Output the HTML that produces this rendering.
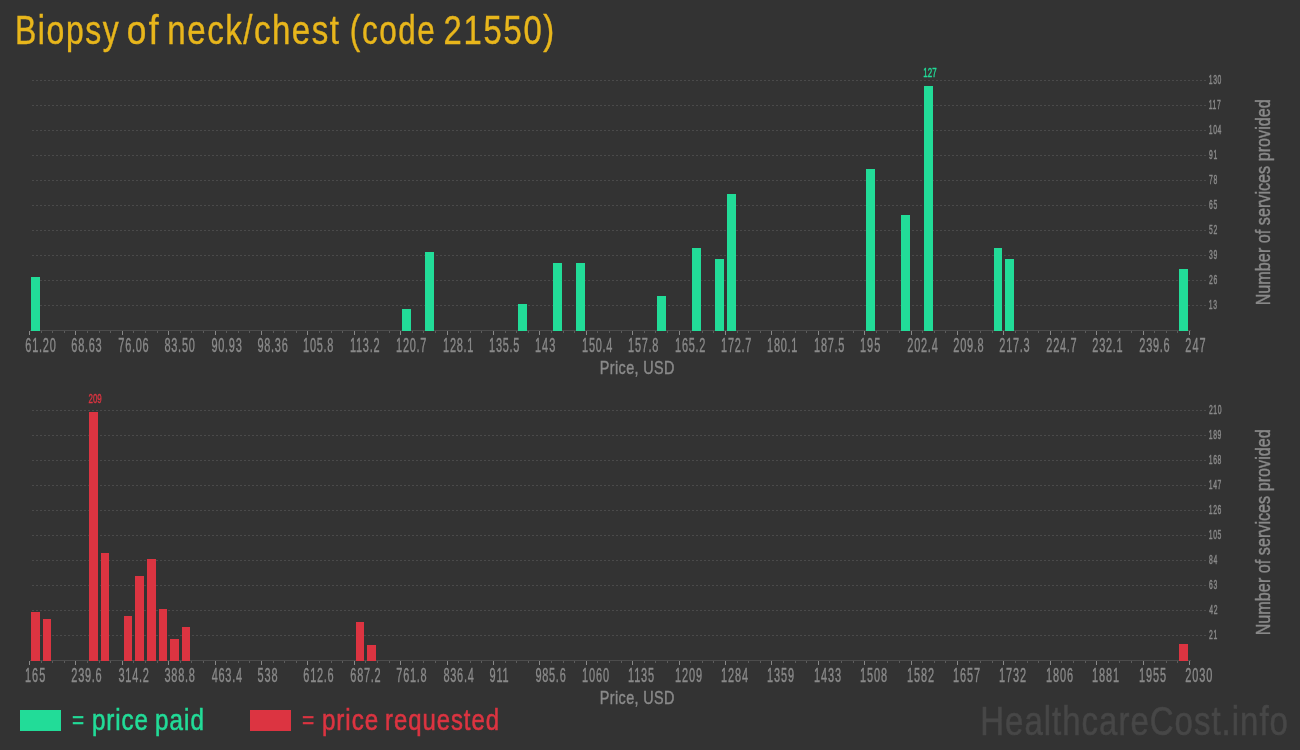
<!DOCTYPE html>
<html><head><meta charset="utf-8"><style>
html,body{margin:0;padding:0;background:#333333;width:1300px;height:750px;overflow:hidden}
svg{display:block;font-family:"Liberation Sans", sans-serif;will-change:transform}
rect,line{shape-rendering:crispEdges}
</style></head><body>
<svg width="1300" height="750" viewBox="0 0 1300 750">
<line x1="32" y1="305.5" x2="1206" y2="305.5" stroke="#4a4a4a" stroke-width="1" stroke-dasharray="2,2"/>
<line x1="32" y1="280.5" x2="1206" y2="280.5" stroke="#4a4a4a" stroke-width="1" stroke-dasharray="2,2"/>
<line x1="32" y1="255.5" x2="1206" y2="255.5" stroke="#4a4a4a" stroke-width="1" stroke-dasharray="2,2"/>
<line x1="32" y1="230.5" x2="1206" y2="230.5" stroke="#4a4a4a" stroke-width="1" stroke-dasharray="2,2"/>
<line x1="32" y1="205.5" x2="1206" y2="205.5" stroke="#4a4a4a" stroke-width="1" stroke-dasharray="2,2"/>
<line x1="32" y1="180.5" x2="1206" y2="180.5" stroke="#4a4a4a" stroke-width="1" stroke-dasharray="2,2"/>
<line x1="32" y1="155.5" x2="1206" y2="155.5" stroke="#4a4a4a" stroke-width="1" stroke-dasharray="2,2"/>
<line x1="32" y1="130.5" x2="1206" y2="130.5" stroke="#4a4a4a" stroke-width="1" stroke-dasharray="2,2"/>
<line x1="32" y1="105.5" x2="1206" y2="105.5" stroke="#4a4a4a" stroke-width="1" stroke-dasharray="2,2"/>
<line x1="32" y1="80.5" x2="1206" y2="80.5" stroke="#4a4a4a" stroke-width="1" stroke-dasharray="2,2"/>
<rect x="30" y="330" width="1161" height="1" fill="#4c4c4c"/>
<rect x="29" y="331" width="1" height="4" fill="#888888"/>
<rect x="41" y="331" width="1" height="2" fill="#5c5c5c"/>
<rect x="52" y="331" width="1" height="2" fill="#5c5c5c"/>
<rect x="64" y="331" width="1" height="2" fill="#5c5c5c"/>
<rect x="75" y="331" width="1" height="4" fill="#888888"/>
<rect x="87" y="331" width="1" height="2" fill="#5c5c5c"/>
<rect x="99" y="331" width="1" height="2" fill="#5c5c5c"/>
<rect x="110" y="331" width="1" height="2" fill="#5c5c5c"/>
<rect x="122" y="331" width="1" height="4" fill="#888888"/>
<rect x="133" y="331" width="1" height="2" fill="#5c5c5c"/>
<rect x="145" y="331" width="1" height="2" fill="#5c5c5c"/>
<rect x="157" y="331" width="1" height="2" fill="#5c5c5c"/>
<rect x="168" y="331" width="1" height="4" fill="#888888"/>
<rect x="180" y="331" width="1" height="2" fill="#5c5c5c"/>
<rect x="191" y="331" width="1" height="2" fill="#5c5c5c"/>
<rect x="203" y="331" width="1" height="2" fill="#5c5c5c"/>
<rect x="215" y="331" width="1" height="4" fill="#888888"/>
<rect x="226" y="331" width="1" height="2" fill="#5c5c5c"/>
<rect x="238" y="331" width="1" height="2" fill="#5c5c5c"/>
<rect x="249" y="331" width="1" height="2" fill="#5c5c5c"/>
<rect x="261" y="331" width="1" height="4" fill="#888888"/>
<rect x="273" y="331" width="1" height="2" fill="#5c5c5c"/>
<rect x="284" y="331" width="1" height="2" fill="#5c5c5c"/>
<rect x="296" y="331" width="1" height="2" fill="#5c5c5c"/>
<rect x="307" y="331" width="1" height="4" fill="#888888"/>
<rect x="319" y="331" width="1" height="2" fill="#5c5c5c"/>
<rect x="331" y="331" width="1" height="2" fill="#5c5c5c"/>
<rect x="342" y="331" width="1" height="2" fill="#5c5c5c"/>
<rect x="354" y="331" width="1" height="4" fill="#888888"/>
<rect x="365" y="331" width="1" height="2" fill="#5c5c5c"/>
<rect x="377" y="331" width="1" height="2" fill="#5c5c5c"/>
<rect x="389" y="331" width="1" height="2" fill="#5c5c5c"/>
<rect x="400" y="331" width="1" height="4" fill="#888888"/>
<rect x="412" y="331" width="1" height="2" fill="#5c5c5c"/>
<rect x="423" y="331" width="1" height="2" fill="#5c5c5c"/>
<rect x="435" y="331" width="1" height="2" fill="#5c5c5c"/>
<rect x="447" y="331" width="1" height="4" fill="#888888"/>
<rect x="458" y="331" width="1" height="2" fill="#5c5c5c"/>
<rect x="470" y="331" width="1" height="2" fill="#5c5c5c"/>
<rect x="481" y="331" width="1" height="2" fill="#5c5c5c"/>
<rect x="493" y="331" width="1" height="4" fill="#888888"/>
<rect x="505" y="331" width="1" height="2" fill="#5c5c5c"/>
<rect x="516" y="331" width="1" height="2" fill="#5c5c5c"/>
<rect x="528" y="331" width="1" height="2" fill="#5c5c5c"/>
<rect x="539" y="331" width="1" height="4" fill="#888888"/>
<rect x="551" y="331" width="1" height="2" fill="#5c5c5c"/>
<rect x="563" y="331" width="1" height="2" fill="#5c5c5c"/>
<rect x="574" y="331" width="1" height="2" fill="#5c5c5c"/>
<rect x="586" y="331" width="1" height="4" fill="#888888"/>
<rect x="597" y="331" width="1" height="2" fill="#5c5c5c"/>
<rect x="609" y="331" width="1" height="2" fill="#5c5c5c"/>
<rect x="621" y="331" width="1" height="2" fill="#5c5c5c"/>
<rect x="632" y="331" width="1" height="4" fill="#888888"/>
<rect x="644" y="331" width="1" height="2" fill="#5c5c5c"/>
<rect x="655" y="331" width="1" height="2" fill="#5c5c5c"/>
<rect x="667" y="331" width="1" height="2" fill="#5c5c5c"/>
<rect x="679" y="331" width="1" height="4" fill="#888888"/>
<rect x="690" y="331" width="1" height="2" fill="#5c5c5c"/>
<rect x="702" y="331" width="1" height="2" fill="#5c5c5c"/>
<rect x="713" y="331" width="1" height="2" fill="#5c5c5c"/>
<rect x="725" y="331" width="1" height="4" fill="#888888"/>
<rect x="737" y="331" width="1" height="2" fill="#5c5c5c"/>
<rect x="748" y="331" width="1" height="2" fill="#5c5c5c"/>
<rect x="760" y="331" width="1" height="2" fill="#5c5c5c"/>
<rect x="771" y="331" width="1" height="4" fill="#888888"/>
<rect x="783" y="331" width="1" height="2" fill="#5c5c5c"/>
<rect x="795" y="331" width="1" height="2" fill="#5c5c5c"/>
<rect x="806" y="331" width="1" height="2" fill="#5c5c5c"/>
<rect x="818" y="331" width="1" height="4" fill="#888888"/>
<rect x="829" y="331" width="1" height="2" fill="#5c5c5c"/>
<rect x="841" y="331" width="1" height="2" fill="#5c5c5c"/>
<rect x="853" y="331" width="1" height="2" fill="#5c5c5c"/>
<rect x="864" y="331" width="1" height="4" fill="#888888"/>
<rect x="876" y="331" width="1" height="2" fill="#5c5c5c"/>
<rect x="887" y="331" width="1" height="2" fill="#5c5c5c"/>
<rect x="899" y="331" width="1" height="2" fill="#5c5c5c"/>
<rect x="911" y="331" width="1" height="4" fill="#888888"/>
<rect x="922" y="331" width="1" height="2" fill="#5c5c5c"/>
<rect x="934" y="331" width="1" height="2" fill="#5c5c5c"/>
<rect x="945" y="331" width="1" height="2" fill="#5c5c5c"/>
<rect x="957" y="331" width="1" height="4" fill="#888888"/>
<rect x="969" y="331" width="1" height="2" fill="#5c5c5c"/>
<rect x="980" y="331" width="1" height="2" fill="#5c5c5c"/>
<rect x="992" y="331" width="1" height="2" fill="#5c5c5c"/>
<rect x="1003" y="331" width="1" height="4" fill="#888888"/>
<rect x="1015" y="331" width="1" height="2" fill="#5c5c5c"/>
<rect x="1027" y="331" width="1" height="2" fill="#5c5c5c"/>
<rect x="1038" y="331" width="1" height="2" fill="#5c5c5c"/>
<rect x="1050" y="331" width="1" height="4" fill="#888888"/>
<rect x="1061" y="331" width="1" height="2" fill="#5c5c5c"/>
<rect x="1073" y="331" width="1" height="2" fill="#5c5c5c"/>
<rect x="1085" y="331" width="1" height="2" fill="#5c5c5c"/>
<rect x="1096" y="331" width="1" height="4" fill="#888888"/>
<rect x="1108" y="331" width="1" height="2" fill="#5c5c5c"/>
<rect x="1119" y="331" width="1" height="2" fill="#5c5c5c"/>
<rect x="1131" y="331" width="1" height="2" fill="#5c5c5c"/>
<rect x="1143" y="331" width="1" height="4" fill="#888888"/>
<rect x="1154" y="331" width="1" height="2" fill="#5c5c5c"/>
<rect x="1166" y="331" width="1" height="2" fill="#5c5c5c"/>
<rect x="1177" y="331" width="1" height="2" fill="#5c5c5c"/>
<rect x="1189" y="331" width="1" height="4" fill="#888888"/>
<rect x="31" y="277" width="9" height="54" fill="#22dc98"/>
<rect x="402" y="309" width="9" height="22" fill="#22dc98"/>
<rect x="425" y="252" width="9" height="79" fill="#22dc98"/>
<rect x="518" y="304" width="9" height="27" fill="#22dc98"/>
<rect x="553" y="263" width="9" height="68" fill="#22dc98"/>
<rect x="576" y="263" width="9" height="68" fill="#22dc98"/>
<rect x="657" y="296" width="9" height="35" fill="#22dc98"/>
<rect x="692" y="248" width="9" height="83" fill="#22dc98"/>
<rect x="715" y="259" width="9" height="72" fill="#22dc98"/>
<rect x="727" y="194" width="9" height="137" fill="#22dc98"/>
<rect x="866" y="169" width="9" height="162" fill="#22dc98"/>
<rect x="901" y="215" width="9" height="116" fill="#22dc98"/>
<rect x="924" y="86" width="9" height="245" fill="#22dc98"/>
<text transform="translate(923.30,76.87) scale(0.6200,1)" font-size="12.86" fill="#22dc98" stroke="#22dc98" stroke-width="0.4">127</text>
<rect x="994" y="248" width="8" height="83" fill="#22dc98"/>
<rect x="1005" y="259" width="9" height="72" fill="#22dc98"/>
<rect x="1179" y="269" width="9" height="62" fill="#22dc98"/>
<text transform="translate(25.35,351.90) scale(0.5427,1)" font-size="20.21" fill="#8a8a8a" stroke="#8a8a8a" stroke-width="0.4" letter-spacing="1.356">61.20</text>
<text transform="translate(71.35,351.90) scale(0.5427,1)" font-size="20.21" fill="#8a8a8a" stroke="#8a8a8a" stroke-width="0.4" letter-spacing="1.353">68.63</text>
<text transform="translate(118.32,351.90) scale(0.5427,1)" font-size="20.21" fill="#8a8a8a" stroke="#8a8a8a" stroke-width="0.4" letter-spacing="1.352">76.06</text>
<text transform="translate(164.43,351.90) scale(0.5427,1)" font-size="20.21" fill="#8a8a8a" stroke="#8a8a8a" stroke-width="0.4" letter-spacing="1.360">83.50</text>
<text transform="translate(211.38,351.90) scale(0.5427,1)" font-size="20.21" fill="#8a8a8a" stroke="#8a8a8a" stroke-width="0.4" letter-spacing="1.354">90.93</text>
<text transform="translate(257.38,351.90) scale(0.5427,1)" font-size="20.21" fill="#8a8a8a" stroke="#8a8a8a" stroke-width="0.4" letter-spacing="1.354">98.36</text>
<text transform="translate(303.08,351.90) scale(0.5427,1)" font-size="20.21" fill="#8a8a8a" stroke="#8a8a8a" stroke-width="0.4" letter-spacing="1.339">105.8</text>
<text transform="translate(350.08,351.90) scale(0.5427,1)" font-size="20.21" fill="#8a8a8a" stroke="#8a8a8a" stroke-width="0.4" letter-spacing="1.293">113.2</text>
<text transform="translate(396.08,351.90) scale(0.5427,1)" font-size="20.21" fill="#8a8a8a" stroke="#8a8a8a" stroke-width="0.4" letter-spacing="1.335">120.7</text>
<text transform="translate(443.08,351.90) scale(0.5427,1)" font-size="20.21" fill="#8a8a8a" stroke="#8a8a8a" stroke-width="0.4" letter-spacing="1.336">128.1</text>
<text transform="translate(489.08,351.90) scale(0.5427,1)" font-size="20.21" fill="#8a8a8a" stroke="#8a8a8a" stroke-width="0.4" letter-spacing="1.340">135.5</text>
<text transform="translate(535.08,351.90) scale(0.5427,1)" font-size="20.21" fill="#8a8a8a" stroke="#8a8a8a" stroke-width="0.4" letter-spacing="1.740">143</text>
<text transform="translate(582.08,351.90) scale(0.5427,1)" font-size="20.21" fill="#8a8a8a" stroke="#8a8a8a" stroke-width="0.4" letter-spacing="1.347">150.4</text>
<text transform="translate(628.08,351.90) scale(0.5427,1)" font-size="20.21" fill="#8a8a8a" stroke="#8a8a8a" stroke-width="0.4" letter-spacing="1.339">157.8</text>
<text transform="translate(675.08,351.90) scale(0.5427,1)" font-size="20.21" fill="#8a8a8a" stroke="#8a8a8a" stroke-width="0.4" letter-spacing="1.335">165.2</text>
<text transform="translate(721.08,351.90) scale(0.5427,1)" font-size="20.21" fill="#8a8a8a" stroke="#8a8a8a" stroke-width="0.4" letter-spacing="1.335">172.7</text>
<text transform="translate(767.08,351.90) scale(0.5427,1)" font-size="20.21" fill="#8a8a8a" stroke="#8a8a8a" stroke-width="0.4" letter-spacing="1.336">180.1</text>
<text transform="translate(814.08,351.90) scale(0.5427,1)" font-size="20.21" fill="#8a8a8a" stroke="#8a8a8a" stroke-width="0.4" letter-spacing="1.340">187.5</text>
<text transform="translate(860.08,351.90) scale(0.5427,1)" font-size="20.21" fill="#8a8a8a" stroke="#8a8a8a" stroke-width="0.4" letter-spacing="1.743">195</text>
<text transform="translate(907.35,351.90) scale(0.5427,1)" font-size="20.21" fill="#8a8a8a" stroke="#8a8a8a" stroke-width="0.4" letter-spacing="1.362">202.4</text>
<text transform="translate(953.35,351.90) scale(0.5427,1)" font-size="20.21" fill="#8a8a8a" stroke="#8a8a8a" stroke-width="0.4" letter-spacing="1.353">209.8</text>
<text transform="translate(999.35,351.90) scale(0.5427,1)" font-size="20.21" fill="#8a8a8a" stroke="#8a8a8a" stroke-width="0.4" letter-spacing="1.353">217.3</text>
<text transform="translate(1046.35,351.90) scale(0.5427,1)" font-size="20.21" fill="#8a8a8a" stroke="#8a8a8a" stroke-width="0.4" letter-spacing="1.349">224.7</text>
<text transform="translate(1092.35,351.90) scale(0.5427,1)" font-size="20.21" fill="#8a8a8a" stroke="#8a8a8a" stroke-width="0.4" letter-spacing="1.350">232.1</text>
<text transform="translate(1139.35,351.90) scale(0.5427,1)" font-size="20.21" fill="#8a8a8a" stroke="#8a8a8a" stroke-width="0.4" letter-spacing="1.353">239.6</text>
<text transform="translate(1185.35,351.90) scale(0.5427,1)" font-size="20.21" fill="#8a8a8a" stroke="#8a8a8a" stroke-width="0.4" letter-spacing="1.760">247</text>
<text transform="translate(1208.79,308.60) scale(0.5355,1)" font-size="12.72" fill="#8a8a8a" stroke="#8a8a8a" stroke-width="0.45" letter-spacing="1.403">13</text>
<text transform="translate(1208.96,283.60) scale(0.5355,1)" font-size="12.72" fill="#8a8a8a" stroke="#8a8a8a" stroke-width="0.45" letter-spacing="1.438">26</text>
<text transform="translate(1209.04,258.60) scale(0.5355,1)" font-size="12.72" fill="#8a8a8a" stroke="#8a8a8a" stroke-width="0.45" letter-spacing="1.452">39</text>
<text transform="translate(1209.03,233.60) scale(0.5355,1)" font-size="12.72" fill="#8a8a8a" stroke="#8a8a8a" stroke-width="0.45" letter-spacing="1.442">52</text>
<text transform="translate(1208.96,208.60) scale(0.5355,1)" font-size="12.72" fill="#8a8a8a" stroke="#8a8a8a" stroke-width="0.45" letter-spacing="1.442">65</text>
<text transform="translate(1208.94,183.60) scale(0.5355,1)" font-size="12.72" fill="#8a8a8a" stroke="#8a8a8a" stroke-width="0.45" letter-spacing="1.435">78</text>
<text transform="translate(1208.98,158.60) scale(0.5355,1)" font-size="12.72" fill="#8a8a8a" stroke="#8a8a8a" stroke-width="0.45" letter-spacing="1.435">91</text>
<text transform="translate(1208.79,133.60) scale(0.5355,1)" font-size="12.72" fill="#8a8a8a" stroke="#8a8a8a" stroke-width="0.45" letter-spacing="1.106">104</text>
<text transform="translate(1208.79,108.60) scale(0.5355,1)" font-size="12.72" fill="#8a8a8a" stroke="#8a8a8a" stroke-width="0.45" letter-spacing="1.037">117</text>
<text transform="translate(1208.79,83.60) scale(0.5355,1)" font-size="12.72" fill="#8a8a8a" stroke="#8a8a8a" stroke-width="0.45" letter-spacing="1.099">130</text>
<text transform="translate(599.79,373.97) scale(0.7515,1)" font-size="19.13" fill="#8a8a8a" stroke="#8a8a8a" stroke-width="0.45" letter-spacing="0.539">Price, USD</text>
<text transform="translate(1270,304) rotate(-90) translate(-1.34,0) scale(0.7962,1)" font-size="20.36" fill="#8a8a8a" stroke="#8a8a8a" stroke-width="0.45">Number of services provided</text>
<line x1="32" y1="635.5" x2="1206" y2="635.5" stroke="#4a4a4a" stroke-width="1" stroke-dasharray="2,2"/>
<line x1="32" y1="610.5" x2="1206" y2="610.5" stroke="#4a4a4a" stroke-width="1" stroke-dasharray="2,2"/>
<line x1="32" y1="585.5" x2="1206" y2="585.5" stroke="#4a4a4a" stroke-width="1" stroke-dasharray="2,2"/>
<line x1="32" y1="560.5" x2="1206" y2="560.5" stroke="#4a4a4a" stroke-width="1" stroke-dasharray="2,2"/>
<line x1="32" y1="535.5" x2="1206" y2="535.5" stroke="#4a4a4a" stroke-width="1" stroke-dasharray="2,2"/>
<line x1="32" y1="510.5" x2="1206" y2="510.5" stroke="#4a4a4a" stroke-width="1" stroke-dasharray="2,2"/>
<line x1="32" y1="485.5" x2="1206" y2="485.5" stroke="#4a4a4a" stroke-width="1" stroke-dasharray="2,2"/>
<line x1="32" y1="460.5" x2="1206" y2="460.5" stroke="#4a4a4a" stroke-width="1" stroke-dasharray="2,2"/>
<line x1="32" y1="435.5" x2="1206" y2="435.5" stroke="#4a4a4a" stroke-width="1" stroke-dasharray="2,2"/>
<line x1="32" y1="410.5" x2="1206" y2="410.5" stroke="#4a4a4a" stroke-width="1" stroke-dasharray="2,2"/>
<rect x="30" y="660" width="1161" height="1" fill="#4c4c4c"/>
<rect x="29" y="661" width="1" height="4" fill="#888888"/>
<rect x="41" y="661" width="1" height="2" fill="#5c5c5c"/>
<rect x="52" y="661" width="1" height="2" fill="#5c5c5c"/>
<rect x="64" y="661" width="1" height="2" fill="#5c5c5c"/>
<rect x="75" y="661" width="1" height="4" fill="#888888"/>
<rect x="87" y="661" width="1" height="2" fill="#5c5c5c"/>
<rect x="99" y="661" width="1" height="2" fill="#5c5c5c"/>
<rect x="110" y="661" width="1" height="2" fill="#5c5c5c"/>
<rect x="122" y="661" width="1" height="4" fill="#888888"/>
<rect x="133" y="661" width="1" height="2" fill="#5c5c5c"/>
<rect x="145" y="661" width="1" height="2" fill="#5c5c5c"/>
<rect x="157" y="661" width="1" height="2" fill="#5c5c5c"/>
<rect x="168" y="661" width="1" height="4" fill="#888888"/>
<rect x="180" y="661" width="1" height="2" fill="#5c5c5c"/>
<rect x="191" y="661" width="1" height="2" fill="#5c5c5c"/>
<rect x="203" y="661" width="1" height="2" fill="#5c5c5c"/>
<rect x="215" y="661" width="1" height="4" fill="#888888"/>
<rect x="226" y="661" width="1" height="2" fill="#5c5c5c"/>
<rect x="238" y="661" width="1" height="2" fill="#5c5c5c"/>
<rect x="249" y="661" width="1" height="2" fill="#5c5c5c"/>
<rect x="261" y="661" width="1" height="4" fill="#888888"/>
<rect x="273" y="661" width="1" height="2" fill="#5c5c5c"/>
<rect x="284" y="661" width="1" height="2" fill="#5c5c5c"/>
<rect x="296" y="661" width="1" height="2" fill="#5c5c5c"/>
<rect x="307" y="661" width="1" height="4" fill="#888888"/>
<rect x="319" y="661" width="1" height="2" fill="#5c5c5c"/>
<rect x="331" y="661" width="1" height="2" fill="#5c5c5c"/>
<rect x="342" y="661" width="1" height="2" fill="#5c5c5c"/>
<rect x="354" y="661" width="1" height="4" fill="#888888"/>
<rect x="365" y="661" width="1" height="2" fill="#5c5c5c"/>
<rect x="377" y="661" width="1" height="2" fill="#5c5c5c"/>
<rect x="389" y="661" width="1" height="2" fill="#5c5c5c"/>
<rect x="400" y="661" width="1" height="4" fill="#888888"/>
<rect x="412" y="661" width="1" height="2" fill="#5c5c5c"/>
<rect x="423" y="661" width="1" height="2" fill="#5c5c5c"/>
<rect x="435" y="661" width="1" height="2" fill="#5c5c5c"/>
<rect x="447" y="661" width="1" height="4" fill="#888888"/>
<rect x="458" y="661" width="1" height="2" fill="#5c5c5c"/>
<rect x="470" y="661" width="1" height="2" fill="#5c5c5c"/>
<rect x="481" y="661" width="1" height="2" fill="#5c5c5c"/>
<rect x="493" y="661" width="1" height="4" fill="#888888"/>
<rect x="505" y="661" width="1" height="2" fill="#5c5c5c"/>
<rect x="516" y="661" width="1" height="2" fill="#5c5c5c"/>
<rect x="528" y="661" width="1" height="2" fill="#5c5c5c"/>
<rect x="539" y="661" width="1" height="4" fill="#888888"/>
<rect x="551" y="661" width="1" height="2" fill="#5c5c5c"/>
<rect x="563" y="661" width="1" height="2" fill="#5c5c5c"/>
<rect x="574" y="661" width="1" height="2" fill="#5c5c5c"/>
<rect x="586" y="661" width="1" height="4" fill="#888888"/>
<rect x="597" y="661" width="1" height="2" fill="#5c5c5c"/>
<rect x="609" y="661" width="1" height="2" fill="#5c5c5c"/>
<rect x="621" y="661" width="1" height="2" fill="#5c5c5c"/>
<rect x="632" y="661" width="1" height="4" fill="#888888"/>
<rect x="644" y="661" width="1" height="2" fill="#5c5c5c"/>
<rect x="655" y="661" width="1" height="2" fill="#5c5c5c"/>
<rect x="667" y="661" width="1" height="2" fill="#5c5c5c"/>
<rect x="679" y="661" width="1" height="4" fill="#888888"/>
<rect x="690" y="661" width="1" height="2" fill="#5c5c5c"/>
<rect x="702" y="661" width="1" height="2" fill="#5c5c5c"/>
<rect x="713" y="661" width="1" height="2" fill="#5c5c5c"/>
<rect x="725" y="661" width="1" height="4" fill="#888888"/>
<rect x="737" y="661" width="1" height="2" fill="#5c5c5c"/>
<rect x="748" y="661" width="1" height="2" fill="#5c5c5c"/>
<rect x="760" y="661" width="1" height="2" fill="#5c5c5c"/>
<rect x="771" y="661" width="1" height="4" fill="#888888"/>
<rect x="783" y="661" width="1" height="2" fill="#5c5c5c"/>
<rect x="795" y="661" width="1" height="2" fill="#5c5c5c"/>
<rect x="806" y="661" width="1" height="2" fill="#5c5c5c"/>
<rect x="818" y="661" width="1" height="4" fill="#888888"/>
<rect x="829" y="661" width="1" height="2" fill="#5c5c5c"/>
<rect x="841" y="661" width="1" height="2" fill="#5c5c5c"/>
<rect x="853" y="661" width="1" height="2" fill="#5c5c5c"/>
<rect x="864" y="661" width="1" height="4" fill="#888888"/>
<rect x="876" y="661" width="1" height="2" fill="#5c5c5c"/>
<rect x="887" y="661" width="1" height="2" fill="#5c5c5c"/>
<rect x="899" y="661" width="1" height="2" fill="#5c5c5c"/>
<rect x="911" y="661" width="1" height="4" fill="#888888"/>
<rect x="922" y="661" width="1" height="2" fill="#5c5c5c"/>
<rect x="934" y="661" width="1" height="2" fill="#5c5c5c"/>
<rect x="945" y="661" width="1" height="2" fill="#5c5c5c"/>
<rect x="957" y="661" width="1" height="4" fill="#888888"/>
<rect x="969" y="661" width="1" height="2" fill="#5c5c5c"/>
<rect x="980" y="661" width="1" height="2" fill="#5c5c5c"/>
<rect x="992" y="661" width="1" height="2" fill="#5c5c5c"/>
<rect x="1003" y="661" width="1" height="4" fill="#888888"/>
<rect x="1015" y="661" width="1" height="2" fill="#5c5c5c"/>
<rect x="1027" y="661" width="1" height="2" fill="#5c5c5c"/>
<rect x="1038" y="661" width="1" height="2" fill="#5c5c5c"/>
<rect x="1050" y="661" width="1" height="4" fill="#888888"/>
<rect x="1061" y="661" width="1" height="2" fill="#5c5c5c"/>
<rect x="1073" y="661" width="1" height="2" fill="#5c5c5c"/>
<rect x="1085" y="661" width="1" height="2" fill="#5c5c5c"/>
<rect x="1096" y="661" width="1" height="4" fill="#888888"/>
<rect x="1108" y="661" width="1" height="2" fill="#5c5c5c"/>
<rect x="1119" y="661" width="1" height="2" fill="#5c5c5c"/>
<rect x="1131" y="661" width="1" height="2" fill="#5c5c5c"/>
<rect x="1143" y="661" width="1" height="4" fill="#888888"/>
<rect x="1154" y="661" width="1" height="2" fill="#5c5c5c"/>
<rect x="1166" y="661" width="1" height="2" fill="#5c5c5c"/>
<rect x="1177" y="661" width="1" height="2" fill="#5c5c5c"/>
<rect x="1189" y="661" width="1" height="4" fill="#888888"/>
<rect x="31" y="612" width="9" height="49" fill="#dc3441"/>
<rect x="43" y="619" width="8" height="42" fill="#dc3441"/>
<rect x="89" y="412" width="9" height="249" fill="#dc3441"/>
<text transform="translate(88.50,402.87) scale(0.6200,1)" font-size="12.86" fill="#dc3441" stroke="#dc3441" stroke-width="0.4">209</text>
<rect x="101" y="553" width="8" height="108" fill="#dc3441"/>
<rect x="124" y="616" width="8" height="45" fill="#dc3441"/>
<rect x="135" y="576" width="9" height="85" fill="#dc3441"/>
<rect x="147" y="559" width="9" height="102" fill="#dc3441"/>
<rect x="159" y="609" width="8" height="52" fill="#dc3441"/>
<rect x="170" y="639" width="9" height="22" fill="#dc3441"/>
<rect x="182" y="627" width="8" height="34" fill="#dc3441"/>
<rect x="356" y="622" width="8" height="39" fill="#dc3441"/>
<rect x="367" y="645" width="9" height="16" fill="#dc3441"/>
<rect x="1179" y="644" width="9" height="17" fill="#dc3441"/>
<text transform="translate(25.08,681.90) scale(0.5427,1)" font-size="20.21" fill="#8a8a8a" stroke="#8a8a8a" stroke-width="0.4" letter-spacing="1.743">165</text>
<text transform="translate(71.35,681.90) scale(0.5427,1)" font-size="20.21" fill="#8a8a8a" stroke="#8a8a8a" stroke-width="0.4" letter-spacing="1.353">239.6</text>
<text transform="translate(118.49,681.90) scale(0.5427,1)" font-size="20.21" fill="#8a8a8a" stroke="#8a8a8a" stroke-width="0.4" letter-spacing="1.356">314.2</text>
<text transform="translate(164.49,681.90) scale(0.5427,1)" font-size="20.21" fill="#8a8a8a" stroke="#8a8a8a" stroke-width="0.4" letter-spacing="1.360">388.8</text>
<text transform="translate(211.65,681.90) scale(0.5427,1)" font-size="20.21" fill="#8a8a8a" stroke="#8a8a8a" stroke-width="0.4" letter-spacing="1.377">463.4</text>
<text transform="translate(257.46,681.90) scale(0.5427,1)" font-size="20.21" fill="#8a8a8a" stroke="#8a8a8a" stroke-width="0.4" letter-spacing="1.780">538</text>
<text transform="translate(303.35,681.90) scale(0.5427,1)" font-size="20.21" fill="#8a8a8a" stroke="#8a8a8a" stroke-width="0.4" letter-spacing="1.353">612.6</text>
<text transform="translate(350.35,681.90) scale(0.5427,1)" font-size="20.21" fill="#8a8a8a" stroke="#8a8a8a" stroke-width="0.4" letter-spacing="1.349">687.2</text>
<text transform="translate(396.32,681.90) scale(0.5427,1)" font-size="20.21" fill="#8a8a8a" stroke="#8a8a8a" stroke-width="0.4" letter-spacing="1.352">761.8</text>
<text transform="translate(443.43,681.90) scale(0.5427,1)" font-size="20.21" fill="#8a8a8a" stroke="#8a8a8a" stroke-width="0.4" letter-spacing="1.366">836.4</text>
<text transform="translate(489.38,681.90) scale(0.5427,1)" font-size="20.21" fill="#8a8a8a" stroke="#8a8a8a" stroke-width="0.4" letter-spacing="1.682">911</text>
<text transform="translate(535.38,681.90) scale(0.5427,1)" font-size="20.21" fill="#8a8a8a" stroke="#8a8a8a" stroke-width="0.4" letter-spacing="1.354">985.6</text>
<text transform="translate(582.08,681.90) scale(0.5427,1)" font-size="20.21" fill="#8a8a8a" stroke="#8a8a8a" stroke-width="0.4" letter-spacing="1.580">1060</text>
<text transform="translate(628.08,681.90) scale(0.5427,1)" font-size="20.21" fill="#8a8a8a" stroke="#8a8a8a" stroke-width="0.4" letter-spacing="1.523">1135</text>
<text transform="translate(675.08,681.90) scale(0.5427,1)" font-size="20.21" fill="#8a8a8a" stroke="#8a8a8a" stroke-width="0.4" letter-spacing="1.574">1209</text>
<text transform="translate(721.08,681.90) scale(0.5427,1)" font-size="20.21" fill="#8a8a8a" stroke="#8a8a8a" stroke-width="0.4" letter-spacing="1.587">1284</text>
<text transform="translate(767.08,681.90) scale(0.5427,1)" font-size="20.21" fill="#8a8a8a" stroke="#8a8a8a" stroke-width="0.4" letter-spacing="1.574">1359</text>
<text transform="translate(814.08,681.90) scale(0.5427,1)" font-size="20.21" fill="#8a8a8a" stroke="#8a8a8a" stroke-width="0.4" letter-spacing="1.576">1433</text>
<text transform="translate(860.08,681.90) scale(0.5427,1)" font-size="20.21" fill="#8a8a8a" stroke="#8a8a8a" stroke-width="0.4" letter-spacing="1.576">1508</text>
<text transform="translate(907.08,681.90) scale(0.5427,1)" font-size="20.21" fill="#8a8a8a" stroke="#8a8a8a" stroke-width="0.4" letter-spacing="1.570">1582</text>
<text transform="translate(953.08,681.90) scale(0.5427,1)" font-size="20.21" fill="#8a8a8a" stroke="#8a8a8a" stroke-width="0.4" letter-spacing="1.570">1657</text>
<text transform="translate(999.08,681.90) scale(0.5427,1)" font-size="20.21" fill="#8a8a8a" stroke="#8a8a8a" stroke-width="0.4" letter-spacing="1.570">1732</text>
<text transform="translate(1046.08,681.90) scale(0.5427,1)" font-size="20.21" fill="#8a8a8a" stroke="#8a8a8a" stroke-width="0.4" letter-spacing="1.576">1806</text>
<text transform="translate(1092.08,681.90) scale(0.5427,1)" font-size="20.21" fill="#8a8a8a" stroke="#8a8a8a" stroke-width="0.4" letter-spacing="1.572">1881</text>
<text transform="translate(1139.08,681.90) scale(0.5427,1)" font-size="20.21" fill="#8a8a8a" stroke="#8a8a8a" stroke-width="0.4" letter-spacing="1.578">1955</text>
<text transform="translate(1185.35,681.90) scale(0.5427,1)" font-size="20.21" fill="#8a8a8a" stroke="#8a8a8a" stroke-width="0.4" letter-spacing="1.598">2030</text>
<text transform="translate(1208.96,638.60) scale(0.5355,1)" font-size="12.72" fill="#8a8a8a" stroke="#8a8a8a" stroke-width="0.45" letter-spacing="1.431">21</text>
<text transform="translate(1209.15,613.60) scale(0.5355,1)" font-size="12.72" fill="#8a8a8a" stroke="#8a8a8a" stroke-width="0.45" letter-spacing="1.466">42</text>
<text transform="translate(1208.96,588.60) scale(0.5355,1)" font-size="12.72" fill="#8a8a8a" stroke="#8a8a8a" stroke-width="0.45" letter-spacing="1.438">63</text>
<text transform="translate(1209.01,563.60) scale(0.5355,1)" font-size="12.72" fill="#8a8a8a" stroke="#8a8a8a" stroke-width="0.45" letter-spacing="1.470">84</text>
<text transform="translate(1208.79,538.60) scale(0.5355,1)" font-size="12.72" fill="#8a8a8a" stroke="#8a8a8a" stroke-width="0.45" letter-spacing="1.097">105</text>
<text transform="translate(1208.79,513.60) scale(0.5355,1)" font-size="12.72" fill="#8a8a8a" stroke="#8a8a8a" stroke-width="0.45" letter-spacing="1.095">126</text>
<text transform="translate(1208.79,488.60) scale(0.5355,1)" font-size="12.72" fill="#8a8a8a" stroke="#8a8a8a" stroke-width="0.45" letter-spacing="1.090">147</text>
<text transform="translate(1208.79,463.60) scale(0.5355,1)" font-size="12.72" fill="#8a8a8a" stroke="#8a8a8a" stroke-width="0.45" letter-spacing="1.095">168</text>
<text transform="translate(1208.79,438.60) scale(0.5355,1)" font-size="12.72" fill="#8a8a8a" stroke="#8a8a8a" stroke-width="0.45" letter-spacing="1.094">189</text>
<text transform="translate(1208.96,413.60) scale(0.5355,1)" font-size="12.72" fill="#8a8a8a" stroke="#8a8a8a" stroke-width="0.45" letter-spacing="1.117">210</text>
<text transform="translate(599.79,703.98) scale(0.7515,1)" font-size="19.13" fill="#8a8a8a" stroke="#8a8a8a" stroke-width="0.45" letter-spacing="0.539">Price, USD</text>
<text transform="translate(1270,634) rotate(-90) translate(-1.34,0) scale(0.7962,1)" font-size="20.36" fill="#8a8a8a" stroke="#8a8a8a" stroke-width="0.45">Number of services provided</text>
<text transform="translate(14.96,44.38) scale(0.7741,1)" font-size="41.24" fill="#e8b61c" stroke="#e8b61c" stroke-width="0.45" letter-spacing="2.092">Biopsy</text>
<text transform="translate(126.81,44.38) scale(0.8553,1)" font-size="41.24" fill="#e8b61c" stroke="#e8b61c" stroke-width="0.45" letter-spacing="2.842">of</text>
<text transform="translate(167.36,44.38) scale(0.8019,1)" font-size="41.24" fill="#e8b61c" stroke="#e8b61c" stroke-width="0.45" letter-spacing="1.875">neck/chest</text>
<text transform="translate(349.83,44.38) scale(0.7605,1)" font-size="41.24" fill="#e8b61c" stroke="#e8b61c" stroke-width="0.45" letter-spacing="2.147">(code</text>
<text transform="translate(443.55,44.38) scale(0.7959,1)" font-size="41.24" fill="#e8b61c" stroke="#e8b61c" stroke-width="0.45" letter-spacing="2.152">21550)</text>
<rect x="20" y="710" width="41" height="21" fill="#22dc98"/>
<rect x="250" y="710" width="41" height="21" fill="#dc3441"/>
<text transform="translate(91.89,729.70) scale(0.8195,1)" font-size="29.52" fill="#22dc98" stroke="#22dc98" stroke-width="0.6" letter-spacing="1.144">price</text>
<text transform="translate(155.09,729.70) scale(0.8184,1)" font-size="29.52" fill="#22dc98" stroke="#22dc98" stroke-width="0.6" letter-spacing="1.305">paid</text>
<text transform="translate(321.99,729.70) scale(0.8195,1)" font-size="29.52" fill="#dc3441" stroke="#dc3441" stroke-width="0.6" letter-spacing="1.144">price</text>
<text transform="translate(384.95,729.70) scale(0.8099,1)" font-size="29.52" fill="#dc3441" stroke="#dc3441" stroke-width="0.6" letter-spacing="1.199">requested</text>
<text transform="translate(72.04,728.05) scale(0.6900,0.8062)" font-size="30.0" fill="#22dc98" stroke="#22dc98" stroke-width="0.6">=</text>
<text transform="translate(301.93,728.05) scale(0.6969,0.8062)" font-size="30.0" fill="#dc3441" stroke="#dc3441" stroke-width="0.6">=</text>
<text transform="translate(980.23,734.70) scale(0.7982,1)" font-size="41.31" fill="#474747" stroke="#474747" stroke-width="0.6" letter-spacing="1.269">HealthcareCost.info</text>
</svg>
</body></html>
